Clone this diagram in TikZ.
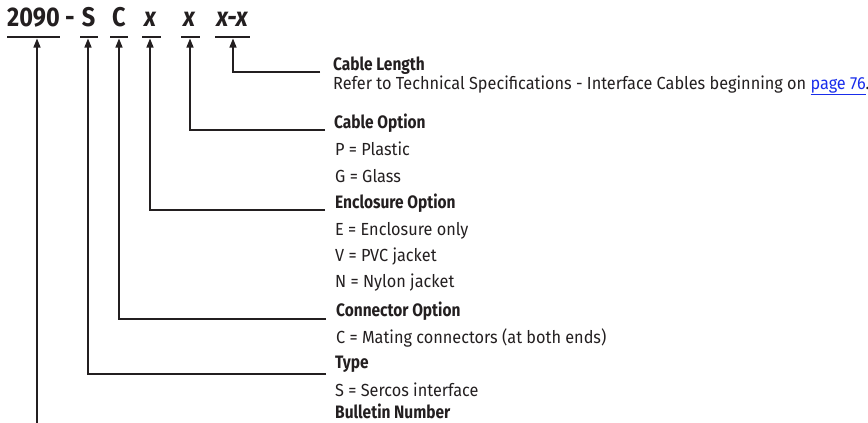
\documentclass[tikz,border=0pt]{standalone}
\usepackage{fontspec}
\setmainfont[FakeStretch=0.84]{Fira Sans}
\newfontfamily\descfont[FakeStretch=0.93]{Fira Sans}
\newfontfamily\titlefont[FakeStretch=0.86]{Fira Sans}
\newfontfamily\hdrfont[FakeStretch=0.87]{Fira Sans}
\usetikzlibrary{arrows.meta}
\definecolor{ink}{RGB}{35,31,32}
\definecolor{linkblue}{RGB}{25,45,235}
\begin{document}
\begin{tikzpicture}[x=1pt,y=-1pt,
  hdr/.style={font=\hdrfont\fontsize{27}{29}\selectfont\bfseries, text=ink, inner sep=0pt, anchor=base},
  ttl/.style={font=\titlefont\fontsize{18}{20}\selectfont\bfseries, text=ink, inner sep=0pt, anchor=base west},
  dsc/.style={font=\descfont\fontsize{17.5}{19}\selectfont, text=ink, inner sep=0pt, anchor=base west},
  uline/.style={draw=ink, line width=1.4pt},
  arr/.style={draw=ink, line width=1.3pt, -{Triangle[length=9pt,width=7pt]}}]
\useasboundingbox (0,0) rectangle (868,423);
% header
\node[hdr] (h2090) at (33.5,27) {2090};
\node[hdr] (hdash) at (70,27) {-};
\node[hdr] (hS) at (88.5,27) {S};
\node[hdr] (hC) at (119,27) {C};
\node[hdr] (hx1) at (150,27) {\itshape x};
\node[hdr] (hx2) at (189,27) {\itshape x};
\node[hdr] (hx3) at (232,27) {\itshape x-x};
% underlines
\draw[uline] (7,37) -- (60,37);
\draw[uline] (80,37) -- (98,37);
\draw[uline] (110,37) -- (128,37);
\draw[uline] (142,37) -- (161,37);
\draw[uline] (181,37) -- (200,37);
\draw[uline] (215,37) -- (250,37);
% arrow tip coordinates
\coordinate (aB) at (37,38.5);
\coordinate (aS) at (88,38.5);
\coordinate (aC) at (119,38.5);
\coordinate (aE) at (150,38.5);
\coordinate (aO) at (190,38.5);
\coordinate (aL) at (233,38.5);
% line ends
\coordinate (eL) at (320,72);
\coordinate (eO) at (325,130);
\coordinate (eE) at (325,210);
\coordinate (eC) at (326,319);
\coordinate (eS) at (326,374);
\coordinate (eB) at (37,430);
% connectors
\draw[arr] (eL) -| (aL);
\draw[arr] (eO) -| (aO);
\draw[arr] (eE) -| (aE);
\draw[arr] (eC) -| (aC);
\draw[arr] (eS) -| (aS);
\draw[arr] (eB) -- (aB);
% texts
\node[ttl] (tL) at (333,70) {Cable Length};
\node[dsc] (dL) at (333,89) {Refer to Technical Specifications - Interface Cables beginning on \textcolor{linkblue}{\underline{page 76}}.};
\node[ttl] (tO) at (334,128) {Cable Option};
\node[dsc] (dO1) at (335,155) {P = Plastic};
\node[dsc] (dO2) at (335,182) {G = Glass};
\node[ttl] (tE) at (335,208) {Enclosure Option};
\node[dsc] (dE1) at (335,235) {E = Enclosure only};
\node[dsc] (dE2) at (335,261) {V = PVC jacket};
\node[dsc] (dE3) at (335,287) {N = Nylon jacket};
\node[ttl] (tC) at (336,316) {Connector Option};
\node[dsc] (dC1) at (336,343) {C = Mating connectors (at both ends)};
\node[ttl] (tS) at (335,368) {Type};
\node[dsc] (dS1) at (335,396) {S = Sercos interface};
\node[ttl] (tB) at (335,418.5) {Bulletin Number};
\end{tikzpicture}
\end{document}
